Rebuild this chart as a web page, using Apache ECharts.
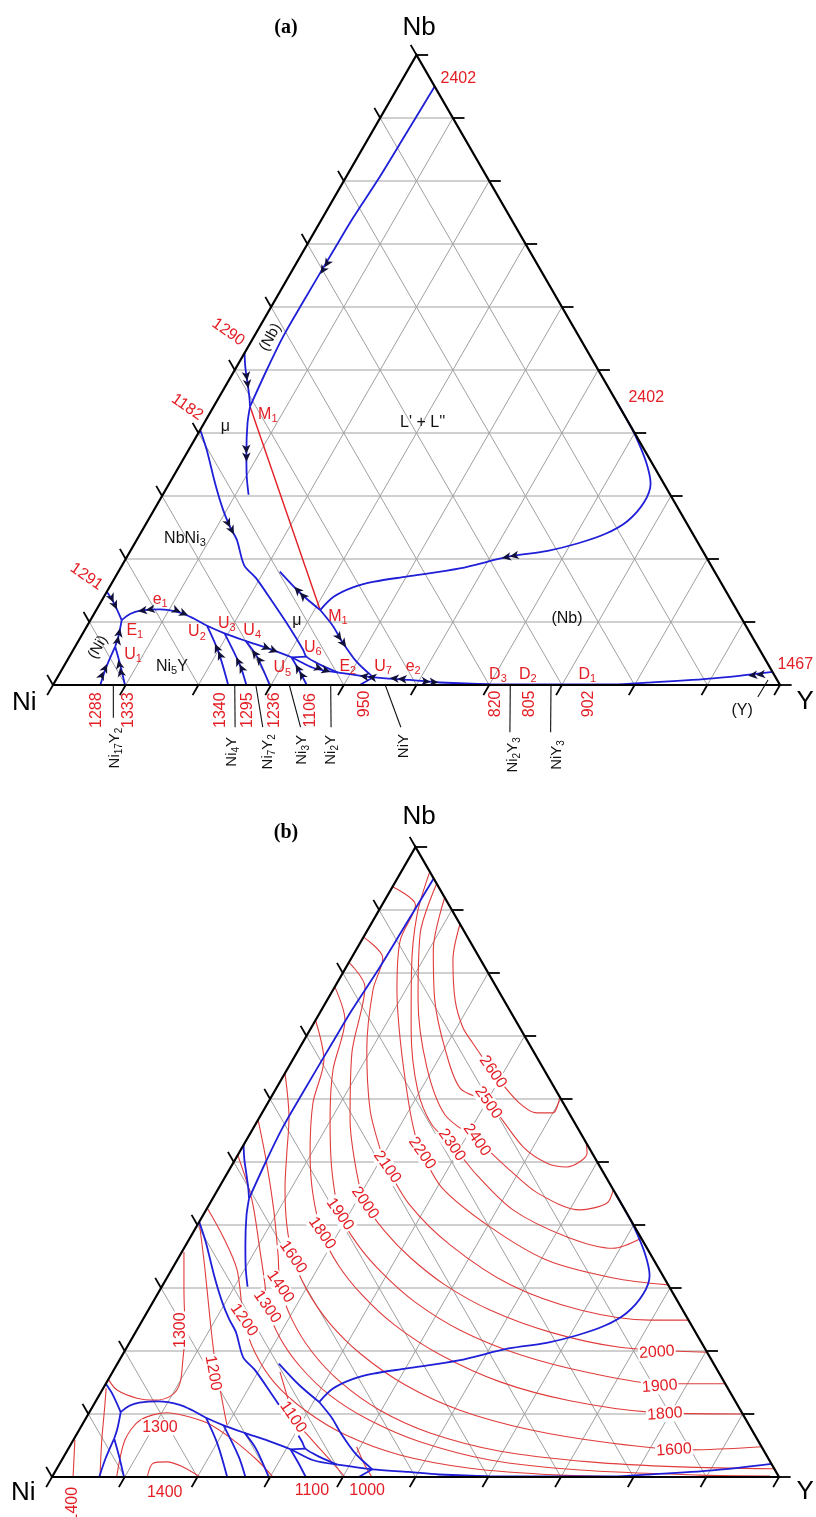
<!DOCTYPE html>
<html><head><meta charset="utf-8">
<script src="https://cdn.jsdelivr.net/npm/echarts/dist/echarts.min.js"></script>
<style>html,body{margin:0;padding:0;background:#fff}#c{width:816px;height:1517px}</style>
</head><body><div id="c"></div>
<script>
// ---------------- DATA (compositions in at.% : [Y, Nb]) ----------------
const gridValues = [10,20,30,40,50,60,70,80,90];
const tickValues = [0,10,20,30,40,50,60,70,80,90,100];

// univariant (boundary) curves - shared by (a) and (b)
const c2402Top = [[5.0,95.0],[4.8,87.3],[4.6,80.4],[4.2,74.2],[4.1,69.0],[4.0,61.1],[4.0,55.3],[4.4,50.0],[5.0,44.2]];
const c1290 = [[0,52.7],[1.2,50.5],[2.5,48.4],[4.1,45.8],[5.0,44.2]];
const cM1Down = [[5.0,44.2],[6.0,41.5],[8.2,36.8],[10.1,33.1],[11.8,30.2]];
const cMu = [[0,40.5],[2.5,37.3],[6.3,32.0],[9.5,27.8],[11.8,25.1],[13.8,23.0],[16.8,19.0],[19.4,17.0],[23.8,13.0],[28.1,9.0],[31.6,5.6],[32.6,4.5],[35.2,3.2],[38.3,1.95]];
const c1291 = [[0,14.8],[1.7,13.2],[4.3,10.3]];
const cE1U1 = [[4.3,10.3],[5.15,7.7],[5.5,6.1]];
const cU1_1288 = [[5.5,6.1],[5.9,2.9],[6.5,0]];
const cU1_1333 = [[5.5,6.1],[7.5,3.4],[9.9,0]];
const cE1E2 = [[4.3,10.3],[5.0,11.3],[6.1,11.8],[8.7,12.0],[11.7,11.5],[14.0,10.6],[16.5,9.4],[19.5,8.2],[23.0,7.0],[27.0,5.7],[30.6,4.4],[34.5,2.7],[38.3,1.95]];
const cU2_1340 = [[16.5,9.4],[20.1,5.3],[24.1,0]];
const cU3_1295 = [[19.5,8.2],[24.1,3.2],[26.6,0]];
const cU4_1236 = [[23.0,7.0],[25.8,4.5],[29.8,0]];
const cU5_1106 = [[30.6,4.4],[32.9,2.1],[34.9,0]];
const cU5U6 = [[30.6,4.4],[32.6,4.5]];
const cE2_1467 = [[38.3,1.95],[43.45,1.22],[48.7,0.8],[53.0,0.4],[60.0,0.15],[77.0,0.1],[81.5,0.37],[90.3,1.06],[97.9,2.1]];
const cM1U7 = [[30.8,11.9],[33.9,9.3],[36.1,7.1],[39.9,3.7],[43.45,1.22]];
const cM1Branch = [[30.8,11.9],[26.7,14.6],[22.2,18.0]];
const c950 = [[42.2,0],[43.45,1.22]];
const cM1Right = [[30.8,11.9],[31.6,14.0],[33.5,15.5],[36.0,16.4],[40.0,17.2],[46.7,18.5],[52.6,20.4],[57.4,21.3],[61.0,22.5],[64.0,24.0],[66.0,26.0],[66.8,29.0],[66.2,32.0],[63.8,35.5],[60.3,39.6],[57.5,42.5],[55.0,45.0]];
const tieLine = [[5.0,44.2],[30.8,11.9]];

// arrows on curves (a): [Y, Nb, dY, dNb]
const arrowsA = [[4.2,66.4,-0.1,-3],[2.5,48.4,1.6,-2.6],[8.2,36.8,1.9,-3.7],[11.8,25.1,2.0,-2.1],[1.7,13.2,2.6,-2.9],[5.15,7.7,-0.85,2.6],[5.9,2.1,-0.4,4],[7.9,2.65,-2.4,3.5],[6.9,11.9,-1.5,-0.3],[11.7,11.6,2.3,-0.9],[20.1,5.3,-3.6,4.1],[24.1,3.2,-4.6,5.0],[25.8,4.5,-2.8,2.5],[27.0,5.7,3.6,-1.3],[32.9,2.1,-2.3,2.3],[35.8,2.5,2.5,-0.8],[36.1,7.1,3.8,-3.4],[26.7,14.6,-4.5,3.4],[42.7,1.3,-4,0.6],[47.0,1.0,-3.5,0.3],[51.6,0.5,3,-0.3],[52.7,20.4,-4,-1],[96.0,1.6,-4,-0.5]];

// liquidus isotherms (b)
const iso2600 = [[12.2,87.9],[14.1,82.1],[17.6,75.7],[20.8,71.4],[23.3,69.0],[28.5,64.3],[34.4,59.5],[37.8,57.8],[40.0,57.8],[39.7,60.3]];
const iso2500 = [[8.0,92.1],[10.6,83.7],[14.8,75.7],[20.2,67.8],[25.3,61.7],[30.3,59.4],[38.6,52.4],[43.2,49.8],[46.2,49.2],[47.9,51.4],[47.0,53.0]];
const iso2400 = [[5.8,94.3],[7.5,86.3],[12.5,75.7],[19.0,65.1],[25.3,57.5],[31.7,53.5],[38.2,49.0],[44.2,45.1],[51.4,42.4],[54.6,43.5],[54.4,45.6]];
const iso2300 = [[3.9,96.2],[5.6,89.2],[9.2,80.5],[13.9,71.0],[19.6,61.4],[24.3,55.9],[28.7,52.7],[34.5,47.9],[42.2,42.4],[51.8,38.1],[59.0,36.3],[62.1,37.9]];
const iso2200 = [[0,93.7],[4.6,90.8],[5.3,85.2],[8.8,77.3],[13.2,69.4],[19.1,59.8],[22.8,54.3],[25.2,51.4],[30.7,45.9],[40.4,39.7],[50.9,34.4],[61.4,31.6],[69.5,30.5]];
const iso2100 = [[0,85.7],[4.3,82.4],[5.5,77.3],[9.4,67.8],[14.6,58.3],[19.0,52.2],[21.5,49.2],[27.6,43.2],[36.4,36.8],[47.8,30.5],[59.4,26.5],[69.8,24.9],[75.1,24.9]];
const iso2000 = [[0,81.7],[4.15,77.8],[7.6,67.3],[12.65,56.7],[17.5,48.7],[21.3,43.5],[26.4,38.9],[31.9,34.8],[38.8,30.5],[47.0,26.5],[57.0,23.0],[67.8,20.6],[80.2,19.8]];
const iso1900 = [[0,77.8],[4.05,72.5],[6.35,64.6],[9.9,56.7],[14.15,48.7],[18.75,41.7],[23.7,36.8],[29.2,32.4],[36.0,27.8],[44.5,23.3],[54.7,19.4],[65.8,16.5],[76.2,14.8],[85.2,14.8]];
const iso1800 = [[0,72.5],[4.3,66.2],[6.2,59.4],[9.8,51.4],[13.5,44.8],[17.8,38.7],[22.5,33.7],[28.2,28.9],[35.1,24.1],[43.7,19.4],[54.1,15.1],[65.2,12.1],[77.1,10.3],[90.0,10.0]];
const iso1600 = [[0,64.1],[4.1,57.0],[6.6,51.4],[9.05,46.0],[12.3,40.0],[15.7,34.9],[20.2,29.7],[26.0,24.4],[32.9,19.4],[41.3,14.6],[50.8,10.6],[62.0,7.5],[74.1,5.4],[85.6,4.3],[95.2,4.8]];
const iso1400 = [[0,56.7],[4.3,50.3],[9.3,42.4],[13.5,35.2],[16.3,30.2],[20.6,24.9],[25.9,19.8],[32.1,15.1],[39.8,10.6],[48.5,7.0],[59.6,4.1],[72.8,2.4],[85.6,1.6],[98.7,1.3]];
const iso1300 = [[0,51.1],[5.5,44.0],[10.6,36.0],[14.05,30.5],[16.1,27.0],[20.3,22.1],[25.4,17.5],[31.7,13.0],[39.2,9.0],[47.8,5.6],[58.9,2.7],[72.1,1.1],[89.0,0.3],[98.7,0.15]];
const iso1200 = [[0,42.7],[4.5,38.1],[9.0,32.9],[13.95,24.9],[18.0,19.8],[23.2,14.9],[29.5,10.6],[37.0,6.7],[46.1,3.5],[56.8,1.4],[69.7,0.3],[80.9,0]];
const iso1100 = [[23.0,16.7],[25.8,13.0],[28.4,9.5],[32.8,5.9],[36.9,2.7],[40.3,0]];
const iso1000 = [[39.5,4.8],[41.8,2.2],[44.0,0]];
const isoLeft1300 = [[0.3,35.7],[3.3,29.7],[6.85,22.9],[8.7,18.6],[10.15,14.9],[10.0,13.0],[8.1,12.2],[5.45,12.5],[2.05,13.8],[0,15.5]];
const isoLeft1200 = [[0.3,40.0],[4.6,32.9],[9.3,24.9],[13.1,18.6],[17.3,12.2],[19.9,8.3]];
const isoArch1300 = [[8.9,0],[7.1,5.9],[7.6,9.0],[10.7,10.2],[13.1,9.8],[17.0,8.6],[21.95,5.9],[26.85,2.7],[30.4,0]];
const isoArch1400 = [[13.1,0],[12.8,2.2],[14.6,2.4],[17.2,1.6],[20.4,0]];
const isoCorner = [[2.9,0],[0.2,5.9]];
const isoNearE1 = [[6.6,0],[3.9,5.9],[1.7,11.1],[0.4,14.1]];

// text (a)
const cornerLabelsA = [[-1.8,104.3,'Nb'],[-2.5,-2.9,'Ni'],[104.8,-2.7,'Y']];
const edgeTempsA = [[-4.0,17.2,'1291'],[-3.9,56.0,'1290'],[-3.6,44.1,'1182']];
const phaseRotA = [[2.3,55.2,'(Nb)'],[3.2,6.0,'(Ni)']];
const pointLabelsA = [[8.1,42.9,'M1'],[33.8,10.8,'M1'],[8.0,13.5,'e1'],[6.9,8.7,'E1'],[8.6,4.8,'U1'],[15.6,8.4,'U2'],[19.0,9.8,'U3'],[23.1,8.6,'U4'],[30.2,2.7,'U5'],[32.8,5.9,'U6'],[39.1,2.9,'E2'],[43.9,3.0,'U7'],[48.1,2.9,'e2'],[60.4,1.6,'D3'],[64.5,1.6,'D2'],[72.7,1.6,'D1'],[100.5,3.2,'1467'],[7.6,96.3,'2402'],[58.8,45.6,'2402']];
const phaseLabelsA = [[3.2,41.0,'μ'],[30.0,41.7,"L' + L''"],[6.5,23.3,'NbNi3'],[28.4,10.3,'μ'],[65.4,10.6,'(Nb)'],[14.9,2.9,'Ni5Y'],[96.8,-4.0,'(Y)']];
const baseTempsA = [[8.05,-4.0,'1288'],[12.45,-4.0,'1333'],[25.0,-4.0,'1340'],[28.7,-4.0,'1295'],[32.5,-4.0,'1236'],[37.4,-4.0,'1106'],[44.4,-3.0,'950'],[62.4,-3.0,'820'],[67.0,-3.0,'805'],[75.2,-3.0,'902']];
const compoundLabelsA = [[13.5,-10.0,'Ni17Y2'],[29.9,-10.6,'Ni4Y'],[34.9,-10.6,'Ni7Y2'],[39.4,-10.3,'Ni3Y'],[43.4,-10.3,'Ni2Y'],[53.1,-9.7,'NiY'],[68.8,-11.1,'Ni2Y3'],[74.9,-11.1,'NiY3']];
const compoundLinesA = [[[8.3,0],[10.9,-5.2]],[[25.0,0],[28.4,-6.7]],[[27.9,0],[32.2,-6.7]],[[32.5,0],[37.4,-6.7]],[[38.2,0],[41.6,-6.7]],[[45.7,0],[51.2,-6.7]],[[62.9,0],[66.6,-7.5]],[[68.5,0],[72.2,-7.5]],[[97.95,0.8],[97.9,-1.9]]];

// text (b)
const cornerLabelsB = [[-1.9,104.8,'Nb'],[-2.7,-2.5,'Ni'],[104.8,-2.4,'Y']];
const isoLabelsB = [[28.5,64.3,'2600'],[30.3,59.4,'2500'],[31.7,53.5,'2400'],[28.65,52.7,'2300'],[25.2,51.4,'2200'],[21.5,49.2,'2100'],[21.3,43.5,'2000'],[18.75,41.7,'1900'],[17.8,38.7,'1800'],[15.7,34.9,'1600'],[16.3,30.2,'1400'],[16.1,27.0,'1300'],[13.95,24.9,'1200'],[28.4,9.5,'1100']];
const isoRightLabelsB = [[73.3,19.8,'2000'],[76.4,14.4,'1900'],[79.3,10.0,'1800'],[83.4,4.3,'1600']];
const isoUpLabelsB = [[6.05,23.3,'1300']];
const isoDownLabelsB = [[13.9,16.5,'1200']];
const isoFlatLabelsB = [[10.9,7.9,'1300'],[16.7,-2.4,'1400'],[36.8,-2.1,'1100'],[44.4,-2.1,'1000']];
const isoCornerLabelB = [[5.1,-4.4,'1400']];

// ---------------- LAYOUT / STYLE ----------------
const W = 727, H = 630, TICK = 1.6;
const panels = [{ox:53, oy:685, top:0, bottom:770}, {ox:52, oy:1477, top:770, bottom:1517}];
const FONT = '"Liberation Sans", Arial, sans-serif';
const RED = '#e31e24', BLUE = '#1f1fd8', CONT = '#e03c3c', NAVY = '#10103a';

const xy = p => [p[0] + p[1] / 2, p[1]];
const boundaryCurves = [c2402Top, c1290, cM1Down, cMu, c1291, cE1U1, cU1_1288, cU1_1333, cE1E2, cU2_1340, cU3_1295, cU4_1236, cU5_1106, cU5U6, cE2_1467, cM1U7, cM1Branch, c950, cM1Right];
const isotherms = [iso2600, iso2500, iso2400, iso2300, iso2200, iso2100, iso2000, iso1900, iso1800, iso1600, iso1400, iso1300, iso1200, iso1100, iso1000, isoLeft1300, isoLeft1200, isoArch1300, isoArch1400, isoCorner, isoNearE1];

const gridPolys = gridValues.flatMap(k => [[[0,k],[100-k,k]], [[k,0],[k,100-k]], [[100-k,0],[0,100-k]]]);
const edgePolys = [[[0,0],[100,0],[0,100],[0,0]]];
const tickPolys = tickValues.flatMap(k => [[[k,0],[k,-TICK]], [[100-k,k],[100-k+TICK,k]], [[0,k],[-TICK,k+TICK]]]);

function linesSeries(gi, polys, style, z) {
  return {type:'lines', coordinateSystem:'cartesian2d', xAxisIndex:gi, yAxisIndex:gi, polyline:true,
    silent:true, animation:false, z:z, lineStyle:Object.assign({opacity:1, curveness:0}, style),
    data: polys.map(c => ({coords: c.map(xy)}))};
}
function curveSeries(gi, curve, style, z) {
  return {type:'line', xAxisIndex:gi, yAxisIndex:gi, silent:true, animation:false, z:z,
    symbol:'none', showSymbol:false, smooth:0.3, lineStyle:Object.assign({opacity:1}, style),
    data: curve.map(xy)};
}
function richText(s) {
  if (/^[0-9]+$/.test(s) || !/[0-9]/.test(s)) return s;
  return s.replace(/([0-9]+)|([^0-9]+)/g, (m, d, t) => d ? '{s|' + d + '}' : '{n|' + t + '}');
}
function labelSeries(gi, items, color, size, rotate, extra) {
  const sub = Math.round(size * 0.68);
  const label = Object.assign({show:true, position:'inside', color:color, opacity:1, fontSize:size, fontFamily:FONT, rotate:rotate || 0,
    formatter: p => richText(p.name),
    rich: {n:{color:color, fontSize:size, fontFamily:FONT, lineHeight:size + 4, verticalAlign:'middle'},
           s:{color:color, fontSize:sub, fontFamily:FONT, lineHeight:sub, verticalAlign:'bottom'}}}, extra || {});
  return {type:'scatter', xAxisIndex:gi, yAxisIndex:gi, silent:true, animation:false, z:10, symbolSize:1,
    itemStyle:{color:'rgba(0,0,0,0)', opacity:1}, label:label,
    data: items.map(it => ({value: xy(it), name: it[2]}))};
}

const series = [];
[0,1].forEach(gi => {
  series.push(linesSeries(gi, gridPolys, {color:'#a0a0a0', width:1}, 1));
  series.push(linesSeries(gi, edgePolys, {color:'#000', width:2.2}, 6));
  series.push(linesSeries(gi, tickPolys, {color:'#000', width:1.8}, 6));
});
// (a)
series.push(linesSeries(0, [tieLine], {color:RED, width:1.4}, 4));
boundaryCurves.forEach(c => series.push(curveSeries(0, c, {color:BLUE, width:1.8}, 5)));
series.push(linesSeries(0, compoundLinesA, {color:'#111', width:1.1}, 5));
series.push({type:'scatter', xAxisIndex:0, yAxisIndex:0, silent:true, animation:false, z:8,
  symbol:'path://M5,0 L10,7.5 L5,5.5 L0,7.5 Z M5,6.5 L10,14 L5,12 L0,14 Z', symbolKeepAspect:true, symbolSize:[12,17],
  itemStyle:{color:NAVY, opacity:1},
  data: arrowsA.map(a => { const dx = (a[2] + a[3] / 2) * W, dy = -a[3] * H;
    return {value: xy(a), symbolRotate: Math.atan2(-dx, -dy) * 180 / Math.PI}; })});
series.push(labelSeries(0, cornerLabelsA, '#000', 26, 0));
series.push(labelSeries(0, edgeTempsA, RED, 16, -35));
series.push(labelSeries(0, phaseRotA, '#111', 15, 60));
series.push(labelSeries(0, pointLabelsA, RED, 16, 0));
series.push(labelSeries(0, phaseLabelsA, '#111', 16, 0));
series.push(labelSeries(0, baseTempsA, RED, 16, 90));
series.push(labelSeries(0, compoundLabelsA, '#111', 15, 90));
// (b)
isotherms.forEach(c => series.push(curveSeries(1, c, {color:CONT, width:1.1}, 3)));
boundaryCurves.forEach(c => series.push(curveSeries(1, c, {color:BLUE, width:1.8}, 5)));
series.push(labelSeries(1, cornerLabelsB, '#000', 26, 0));
const bg = {backgroundColor:'#fff', padding:[0,1]};
series.push(labelSeries(1, isoLabelsB, RED, 16, -55, bg));
series.push(labelSeries(1, isoRightLabelsB, RED, 16, 4, bg));
series.push(labelSeries(1, isoUpLabelsB, RED, 16, 90, bg));
series.push(labelSeries(1, isoDownLabelsB, RED, 16, -80, bg));
series.push(labelSeries(1, isoFlatLabelsB, RED, 16, 0, bg));
series.push(labelSeries(1, isoCornerLabelB, RED, 16, 90));

const option = {
  animation:false,
  backgroundColor:'#fff',
  grid: panels.map(p => ({left:0, top:p.top, width:816, height:p.bottom - p.top})),
  xAxis: panels.map((p, i) => ({type:'value', gridIndex:i, show:false, min:-p.ox / W * 100, max:(816 - p.ox) / W * 100})),
  yAxis: panels.map((p, i) => ({type:'value', gridIndex:i, show:false, min:-(p.bottom - p.oy) / H * 100, max:(p.oy - p.top) / H * 100})),
  graphic: [
    {type:'text', x:286, y:28, style:{text:'(a)', fontSize:20, fontWeight:'bold', fontFamily:'"Liberation Serif", serif', fill:'#000', align:'center', verticalAlign:'middle', textAlign:'center', textVerticalAlign:'middle'}},
    {type:'text', x:286, y:833, style:{text:'(b)', fontSize:20, fontWeight:'bold', fontFamily:'"Liberation Serif", serif', fill:'#000', align:'center', verticalAlign:'middle', textAlign:'center', textVerticalAlign:'middle'}}
  ],
  series: series
};
const chart = echarts.init(document.getElementById('c'), null, {renderer:'canvas'});
chart.setOption(option);
</script></body></html>
